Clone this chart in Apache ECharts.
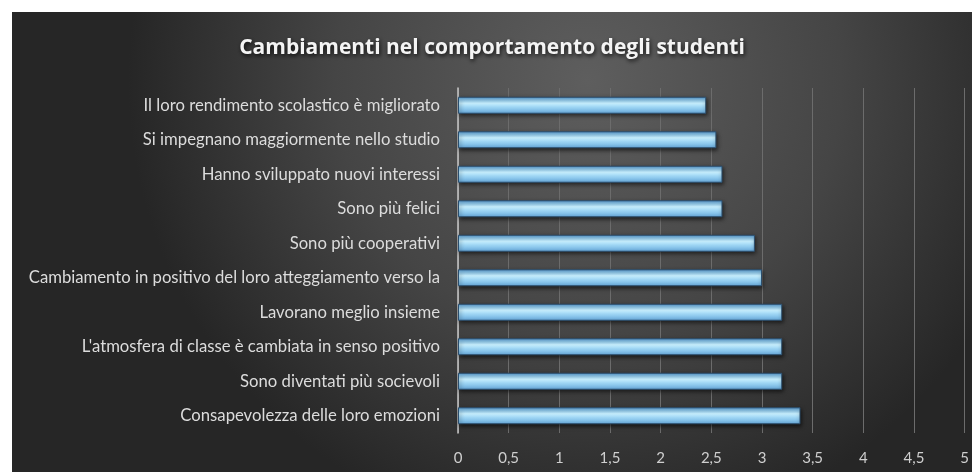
<!DOCTYPE html>
<html>
<head>
<meta charset="utf-8">
<script src="https://cdn.jsdelivr.net/npm/echarts@6/dist/echarts.min.js"></script>
<style>
html,body{margin:0;padding:0;background:#ffffff;}
#chart{position:absolute;left:12px;top:12px;width:960px;height:460px;}
</style>
</head>
<body>
<div id="chart"></div>
<script>
const titleText = 'Cambiamenti nel comportamento degli studenti';
const categories = [
  'Il loro rendimento scolastico è migliorato',
  'Si impegnano maggiormente nello studio',
  'Hanno sviluppato nuovi interessi',
  'Sono più felici',
  'Sono più cooperativi',
  'Cambiamento in positivo del loro atteggiamento verso la',
  'Lavorano meglio insieme',
  "L'atmosfera di classe è cambiata in senso positivo",
  'Sono diventati più socievoli',
  'Consapevolezza delle loro emozioni'
];
const values = [2.45, 2.55, 2.61, 2.61, 2.93, 3.0, 3.2, 3.2, 3.2, 3.38];
const xMin = 0, xMax = 5, xStep = 0.5;

const chart = echarts.init(document.getElementById('chart'));
const fontFam = 'Lato, "Open Sans", sans-serif';
chart.setOption({
  backgroundColor: {
    type: 'radial', x: 0.6, y: 0.15, r: 1.0,
    colorStops: [
      {offset: 0, color: '#5e5e5e'},
      {offset: 0.55, color: '#454545'},
      {offset: 1, color: '#262626'}
    ]
  },
  animation: false,
  title: {
    text: titleText,
    left: 'center',
    top: 21,
    textStyle: {
      color: '#f4f4f4', fontFamily: '"Open Sans", Lato, sans-serif', fontSize: 21, fontWeight: 'bold',
      textShadowColor: 'rgba(0,0,0,0.8)', textShadowBlur: 4, textShadowOffsetX: 1, textShadowOffsetY: 2
    }
  },
  grid: {left: 446, right: 6, top: 76, bottom: 39, containLabel: false},
  xAxis: {
    type: 'value', min: xMin, max: xMax, interval: xStep,
    axisLine: {show: false}, axisTick: {show: false},
    splitLine: {show: true, lineStyle: {color: '#6c6c6c', width: 1}},
    axisLabel: {
      color: '#cfcfcf', fontFamily: fontFam, fontSize: 15, margin: 18,
      formatter: v => String(v).replace('.', ',')
    }
  },
  yAxis: {
    type: 'category', data: categories, inverse: true,
    axisLine: {show: true, lineStyle: {color: '#c8c8c8', width: 1.5}},
    axisTick: {show: false},
    axisLabel: {color: '#dcdcdc', fontFamily: fontFam, fontSize: 16.7, margin: 18}
  },
  series: [{
    type: 'bar', data: values, barWidth: 17,
    itemStyle: {
      color: {
        type: 'linear', x: 0, y: 0, x2: 0, y2: 1,
        colorStops: [
          {offset: 0, color: '#4c8fca'},
          {offset: 0.15, color: '#86c4ec'},
          {offset: 0.38, color: '#c8f0ff'},
          {offset: 0.6, color: '#9fd6f4'},
          {offset: 1, color: '#66aadd'}
        ]
      },
      borderColor: '#2c4f6e', borderWidth: 1,
      shadowColor: 'rgba(0,0,0,0.6)', shadowBlur: 4, shadowOffsetX: 1, shadowOffsetY: 2
    }
  }]
});
</script>
</body>
</html>
